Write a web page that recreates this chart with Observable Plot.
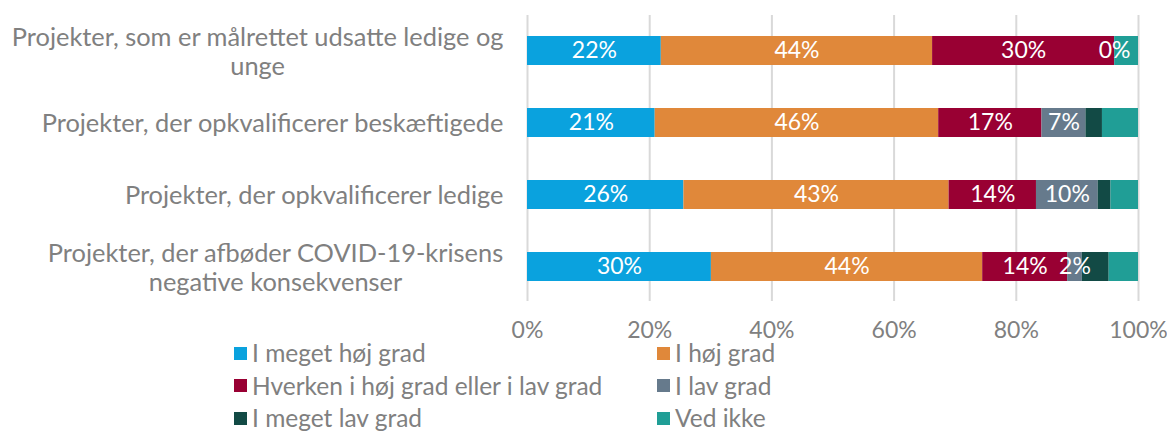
<!DOCTYPE html>
<html>
<head>
<meta charset="utf-8">
<script src="https://cdn.jsdelivr.net/npm/d3@7"></script>
<script src="https://cdn.jsdelivr.net/npm/@observablehq/plot@0.6"></script>
<style>
  html, body { margin: 0; padding: 0; background: #fff; }
  body { width: 1167px; height: 431px; overflow: hidden; font-family: Lato, sans-serif; }
  #chart svg { display: block; }
  #legend { display: grid; grid-template-columns: 423px 400px; margin-left: 234px; margin-top: -8px; }
  .item { height: 32.5px; display: flex; align-items: center; font-size: 24.5px; line-height: 1; color: #808080; white-space: nowrap; }
  .sw { width: 13px; height: 13px; margin-right: 5px; }
</style>
</head>
<body>
<div id="chart"></div>
<div id="legend"></div>
<script>
const categories = [
  "Projekter, som er målrettet udsatte ledige og\nunge",
  "Projekter, der opkvalificerer beskæftigede",
  "Projekter, der opkvalificerer ledige",
  "Projekter, der afbøder COVID-19-krisens\nnegative konsekvenser"
];
const series = ["I meget høj grad", "I høj grad", "Hverken i høj grad eller i lav grad", "I lav grad", "I meget lav grad", "Ved ikke"];
const colors = ["#0aa2de", "#e0883a", "#990033", "#667a8c", "#124a45", "#209e96"];
const labelledSeries = ["I meget høj grad", "I høj grad", "Hverken i høj grad eller i lav grad", "I lav grad"];
// values per series, in category order
const meget_hoej = [21.9, 20.9, 25.6, 30.1];
const hoej       = [44.4, 46.4, 43.4, 44.4];
const hverken    = [29.8, 16.9, 14.3, 13.9];
const lav        = [0.0, 7.2, 10.1, 2.4];
const meget_lav  = [0.0, 2.7, 2.1, 4.4];
const ved_ikke   = [3.9, 5.9, 4.5, 4.8];
const xTicks = [0, 20, 40, 60, 80, 100];

const seriesValues = [meget_hoej, hoej, hverken, lav, meget_lav, ved_ikke];
const data = [];
categories.forEach((c, i) => series.forEach((s, j) => data.push({cat: c, series: s, value: seriesValues[j][i]})));

const chart = Plot.plot({
  width: 1167,
  height: 345,
  marginLeft: 527,
  marginRight: 29,
  marginTop: 15,
  marginBottom: 44,
  style: {fontFamily: "Lato, sans-serif", fontSize: "25px", color: "#808080", background: "#fff"},
  x: {domain: [0, 100], axis: null},
  y: {domain: categories, paddingInner: 0.6, paddingOuter: 0.286, axis: null},
  color: {domain: series, range: colors},
  marks: [
    Plot.ruleX(xTicks, {stroke: "#d9d9d9", strokeWidth: 2}),
    Plot.barX(data, Plot.stackX({x: "value", y: "cat", fill: "series", order: series})),
    Plot.text(data, Plot.stackX({x: "value", y: "cat", z: "series", order: series,
      text: d => labelledSeries.includes(d.series) ? Math.round(d.value) + "%" : "",
      fill: "white", fontSize: 23})),
    Plot.axisX(xTicks, {label: null, tickSize: 0, tickPadding: 20, tickFormat: d => d + "%", fontSize: 23, color: "#808080"}),
    Plot.axisY({label: null, tickSize: 0, tickPadding: 24, fontSize: 25.4, lineHeight: 1.13, color: "#808080", textAnchor: "end"})
  ]
});
document.getElementById("chart").appendChild(chart);

// center multi-line y labels within their own block (block right-aligned)
chart.querySelectorAll("g[aria-label='y-axis tick label'] text").forEach(t => {
  const tspans = t.querySelectorAll("tspan");
  if (tspans.length > 1) {
    const w = t.getBBox().width;
    t.setAttribute("text-anchor", "middle");
    const tr = t.getAttribute("transform") || "";
    t.setAttribute("transform", tr + ` translate(${-w / 2},0)`);
  }
});

const legend = document.getElementById("legend");
series.forEach((s, i) => {
  const el = document.createElement("div");
  el.className = "item";
  el.innerHTML = `<span class="sw" style="background:${colors[i]}"></span>${s}`;
  legend.appendChild(el);
});
</script>
</body>
</html>
